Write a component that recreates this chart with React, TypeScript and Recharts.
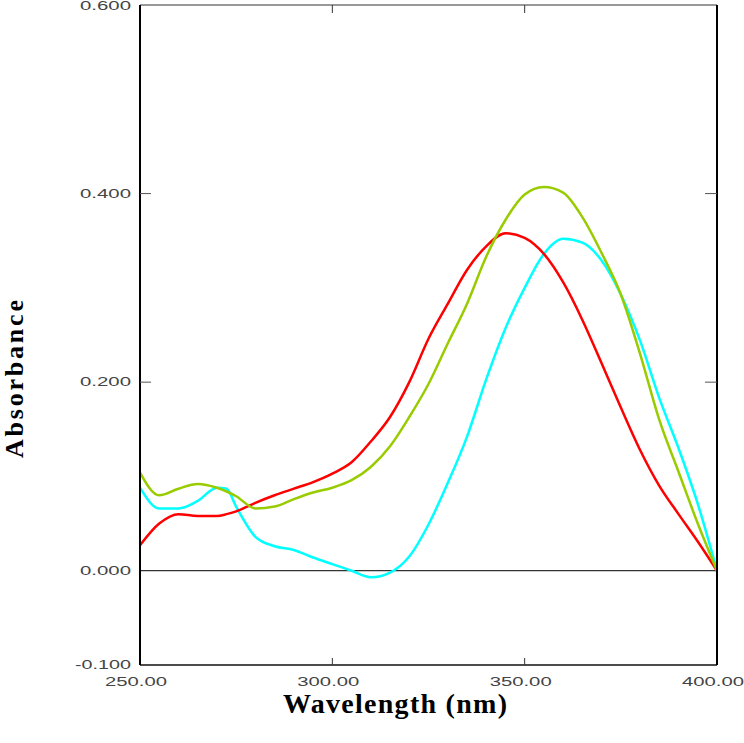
import React from "react";
import {
  LineChart,
  Line,
  XAxis,
  YAxis,
  ReferenceLine,
} from "recharts";

// wavelength grid (nm)
const wavelengths = [
  250, 255, 260, 265, 270, 272.5, 275, 280, 285, 290, 295, 300, 305, 310, 315, 320,
  325, 330, 335, 340, 345, 350, 355, 360, 365, 370, 375, 380, 385, 390, 395, 400,
];

// absorbance traces
const redSpectrum = [
  0.027, 0.05, 0.06, 0.058, 0.058, 0.06, 0.063, 0.072, 0.08, 0.087, 0.094, 0.103, 0.115, 0.137, 0.163, 0.2,
  0.246, 0.283, 0.319, 0.344, 0.358, 0.353, 0.336, 0.306, 0.266, 0.22, 0.173, 0.128, 0.09, 0.06, 0.031, 0.0,
];
const greenSpectrum = [
  0.104, 0.08, 0.087, 0.092, 0.088, 0.084, 0.079, 0.066, 0.068, 0.076, 0.083, 0.088, 0.096, 0.11, 0.132, 0.163,
  0.198, 0.241, 0.283, 0.333, 0.372, 0.399, 0.407, 0.401, 0.375, 0.337, 0.293, 0.23, 0.16, 0.105, 0.05, 0.0,
];
const cyanSpectrum = [
  0.088, 0.066, 0.066, 0.074, 0.088, 0.087, 0.068, 0.036, 0.026, 0.022, 0.014, 0.007, 0.0, -0.007, -0.002, 0.015,
  0.049, 0.093, 0.142, 0.203, 0.257, 0.3, 0.336, 0.352, 0.348, 0.329, 0.293, 0.244, 0.183, 0.13, 0.071, 0.0,
];

const xTicks = [250, 300, 350, 400];
const yTicks = [-0.1, 0, 0.2, 0.4, 0.6];

const data = wavelengths.map((nm, i) => ({
  nm,
  red: redSpectrum[i],
  green: greenSpectrum[i],
  cyan: cyanSpectrum[i],
}));

const tickFont = {
  fontFamily: "'Liberation Sans', Arial, sans-serif",
  fontSize: 12,
  fill: "#444",
};

const isInnerY = (v: number) => v > -0.1 && v < 0.6 && v !== 0;
const isInnerX = (v: number) => v > 250 && v < 400;

const LeftTick = ({ x, y, payload }: any) => {
  const v = payload.value as number;
  const label = v.toFixed(3);
  return (
    <g>
      {isInnerY(v) && <line x1={x} x2={x + 11} y1={y} y2={y} stroke="#555" />}
      <text
        x={x - 9}
        y={Math.max(y, 6)}
        dy={4}
        textAnchor="end"
        textLength={label.startsWith("-") ? 56 : 51}
        lengthAdjust="spacingAndGlyphs"
        {...tickFont}
      >
        {label}
      </text>
    </g>
  );
};

const RightTick = ({ x, y, payload }: any) =>
  isInnerY(payload.value) ? <line x1={x - 12} x2={x} y1={y} y2={y} stroke="#555" /> : <g />;

const TopTick = ({ x, y, payload }: any) =>
  isInnerX(payload.value) ? <line x1={x} x2={x} y1={y} y2={y + 8} stroke="#333" /> : <g />;

const BottomTick = ({ x, y, payload }: any) => {
  const v = payload.value as number;
  return (
    <g>
      {isInnerX(v) && <line x1={x} x2={x} y1={y - 7} y2={y} stroke="#333" />}
      <text
        x={x - 4}
        y={y + 21}
        textAnchor="middle"
        textLength={62}
        lengthAdjust="spacingAndGlyphs"
        {...tickFont}
      >
        {v.toFixed(2)}
      </text>
    </g>
  );
};

const titleFont = {
  fontFamily: "'Liberation Serif', 'Times New Roman', serif",
  fontWeight: 700,
  fill: "#000",
};

export default function App() {
  return (
    <div style={{ position: "relative", width: 744, height: 743, background: "#fff" }}>
      <style>{"body{margin:0}"}</style>
      <LineChart
        width={744}
        height={743}
        data={data}
        margin={{ top: 0, right: 0, bottom: 48, left: 0 }}
      >
        <XAxis
          dataKey="nm"
          type="number"
          domain={[250, 400]}
          allowDataOverflow
          ticks={xTicks}
          interval={0}
          height={30}
          tickSize={0}
          tickMargin={0}
          axisLine={{ stroke: "#111", strokeWidth: 1.5 }}
          tick={BottomTick}
        />
        <XAxis
          xAxisId="top"
          dataKey="nm"
          orientation="top"
          type="number"
          domain={[250, 400]}
          allowDataOverflow
          ticks={xTicks}
          interval={0}
          height={5}
          tickSize={0}
          tickMargin={0}
          axisLine={{ stroke: "#333", strokeWidth: 1 }}
          tick={TopTick}
        />
        <YAxis
          type="number"
          domain={[-0.1, 0.6]}
          allowDataOverflow
          ticks={yTicks}
          interval={0}
          width={140}
          tickSize={0}
          tickMargin={0}
          axisLine={{ stroke: "#000", strokeWidth: 2 }}
          tick={LeftTick}
        />
        <YAxis
          yAxisId="right"
          orientation="right"
          type="number"
          domain={[-0.1, 0.6]}
          allowDataOverflow
          ticks={yTicks}
          interval={0}
          width={27}
          tickSize={0}
          tickMargin={0}
          axisLine={{ stroke: "#000", strokeWidth: 2 }}
          tick={RightTick}
        />
        <ReferenceLine y={0} stroke="#000" strokeWidth={1} />
        <Line
          type="monotone"
          dataKey="cyan"
          stroke="#00FFFF"
          strokeWidth={2.5}
          dot={false}
          isAnimationActive={false}
        />
        <Line
          type="monotone"
          dataKey="red"
          stroke="#FF0000"
          strokeWidth={2.5}
          dot={false}
          isAnimationActive={false}
        />
        <Line
          type="monotone"
          dataKey="green"
          stroke="#99CC00"
          strokeWidth={2.5}
          dot={false}
          isAnimationActive={false}
        />
      </LineChart>
      <svg
        width={744}
        height={743}
        style={{ position: "absolute", left: 0, top: 0, pointerEvents: "none" }}
      >
        <text
          x={23}
          y={379}
          transform="rotate(-90 23 379)"
          textAnchor="middle"
          fontSize={26}
          textLength={158}
          lengthAdjust="spacing"
          {...titleFont}
        >
          Absorbance
        </text>
        <text
          x={395}
          y={713}
          textAnchor="middle"
          fontSize={28}
          textLength={224}
          lengthAdjust="spacing"
          {...titleFont}
        >
          Wavelength (nm)
        </text>
      </svg>
    </div>
  );
}
